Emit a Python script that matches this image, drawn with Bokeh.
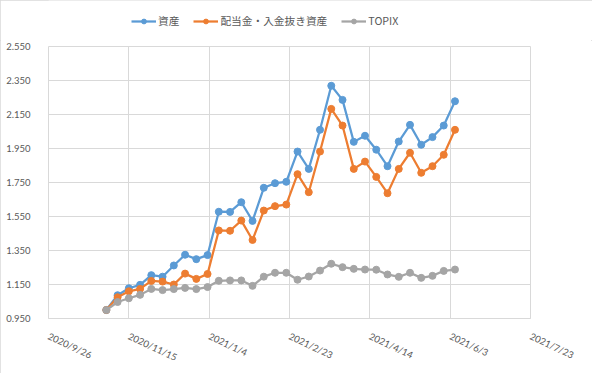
import pandas as pd
from bokeh.plotting import figure
from bokeh.layouts import column
from bokeh.models import Legend, LegendItem, FixedTicker, NumeralTickFormatter, Range1d
from bokeh.embed import file_html
from bokeh.resources import INLINE

# ---- data ----
dates = ["2020-11-01", "2020-11-08", "2020-11-15", "2020-11-22", "2020-11-29",
         "2020-12-06", "2020-12-13", "2020-12-20", "2020-12-27", "2021-01-03",
         "2021-01-10", "2021-01-17", "2021-01-24", "2021-01-31", "2021-02-07",
         "2021-02-14", "2021-02-21", "2021-02-28", "2021-03-07", "2021-03-14",
         "2021-03-21", "2021-03-28", "2021-04-04", "2021-04-11", "2021-04-18",
         "2021-04-25", "2021-05-02", "2021-05-09", "2021-05-16", "2021-05-23",
         "2021-05-30", "2021-06-06"]

assets = [1.000, 1.087, 1.128, 1.148, 1.205, 1.196, 1.262, 1.325, 1.299, 1.323,
          1.578, 1.577, 1.634, 1.524, 1.719, 1.746, 1.754, 1.932, 1.830, 2.060,
          2.319, 2.236, 1.989, 2.025, 1.943, 1.846, 1.991, 2.089, 1.972, 2.017,
          2.085, 2.228]

assets_ex = [1.000, 1.075, 1.110, 1.124, 1.171, 1.167, 1.150, 1.214, 1.183, 1.212,
             1.468, 1.466, 1.526, 1.412, 1.585, 1.611, 1.620, 1.799, 1.693, 1.932,
             2.183, 2.085, 1.830, 1.873, 1.783, 1.687, 1.830, 1.925, 1.807, 1.846,
             1.913, 2.060]

topix = [1.000, 1.047, 1.069, 1.089, 1.124, 1.117, 1.123, 1.130, 1.123, 1.135,
         1.172, 1.174, 1.174, 1.142, 1.196, 1.219, 1.219, 1.178, 1.197, 1.232,
         1.272, 1.252, 1.242, 1.238, 1.237, 1.209, 1.195, 1.219, 1.189, 1.201,
         1.230, 1.238]

series_names = ["資産", "配当金・入金抜き資産", "TOPIX"]
series_colors = ["#5B9BD5", "#ED7D31", "#A5A5A5"]

x_tick_dates = ["2020-09-26", "2020-11-15", "2021-01-04", "2021-02-23",
                "2021-04-14", "2021-06-03", "2021-07-23"]
x_tick_labels = ["2020/9/26", "2020/11/15", "2021/1/4", "2021/2/23",
                 "2021/4/14", "2021/6/3", "2021/7/23"]
y_ticks = [0.95, 1.15, 1.35, 1.55, 1.75, 1.95, 2.15, 2.35, 2.55]

# ---- build ----
origin = pd.Timestamp(x_tick_dates[0])
xs = [(pd.Timestamp(d) - origin).days for d in dates]
xt = [(pd.Timestamp(d) - origin).days for d in x_tick_dates]
series = [assets, assets_ex, topix]

grid_c = "#D9D9D9"
label_c = "#595959"
font = "Lato"

# main chart
p = figure(width=592, height=333, output_backend="svg", toolbar_location=None,
           x_range=Range1d(xt[0], xt[-1]), y_range=Range1d(y_ticks[0], y_ticks[-1]),
           min_border_left=48, min_border_right=62, min_border_top=6, min_border_bottom=55)
p.background_fill_color = "white"
p.border_fill_color = "white"
p.outline_line_color = grid_c
p.outline_line_width = 1

p.xgrid.grid_line_color = grid_c
p.ygrid.grid_line_color = grid_c
p.xaxis.ticker = FixedTicker(ticks=xt)
p.yaxis.ticker = FixedTicker(ticks=y_ticks)
p.xaxis.major_label_overrides = {t: l for t, l in zip(xt, x_tick_labels)}
p.yaxis.formatter = NumeralTickFormatter(format="0.000")

for ax in (p.xaxis, p.yaxis):
    ax.major_tick_line_color = None
    ax.minor_tick_line_color = None
    ax.major_label_text_color = label_c
    ax.major_label_text_font = font
    ax.major_label_text_font_size = "9.5px"
p.yaxis.axis_line_color = None
p.xaxis.axis_line_color = grid_c
p.xaxis.major_label_orientation = -0.44
p.xaxis.major_label_standoff = 11
p.yaxis.major_label_standoff = 12

for col, ys in zip(series_colors, series):
    p.line(xs, ys, line_color=col, line_width=2.25)
    p.scatter(xs, ys, size=7, fill_color=col, line_color=col)

# legend strip above the chart
lg = figure(width=592, height=40, output_backend="svg", toolbar_location=None,
            x_range=Range1d(-2, -1), y_range=Range1d(-2, -1), min_border=0)
lg.axis.visible = False
lg.grid.visible = False
lg.outline_line_color = None
lg.background_fill_color = "white"
lg.border_fill_color = "white"

items = []
for name, col, ys in zip(series_names, series_colors, series):
    r1 = lg.line(xs, ys, line_color=col, line_width=2.25)
    r2 = lg.scatter(xs, ys, size=7, fill_color=col, line_color=col)
    items.append(LegendItem(label=name, renderers=[r1, r2]))

legend = Legend(items=items, orientation="horizontal", location=(83, 12),
                label_text_font="Noto Sans CJK JP", label_text_font_size="10.7px",
                label_text_color=label_c, glyph_width=25, glyph_height=12,
                spacing=14, label_standoff=2, padding=0, margin=0,
                border_line_color=None, background_fill_alpha=0)
lg.add_layout(legend, "center")

layout = column(lg, p, spacing=0)
layout.styles = {"outline": "1px solid #D9D9D9", "outline-offset": "-1px"}
open("out.html", "w").write(file_html(layout, INLINE))
